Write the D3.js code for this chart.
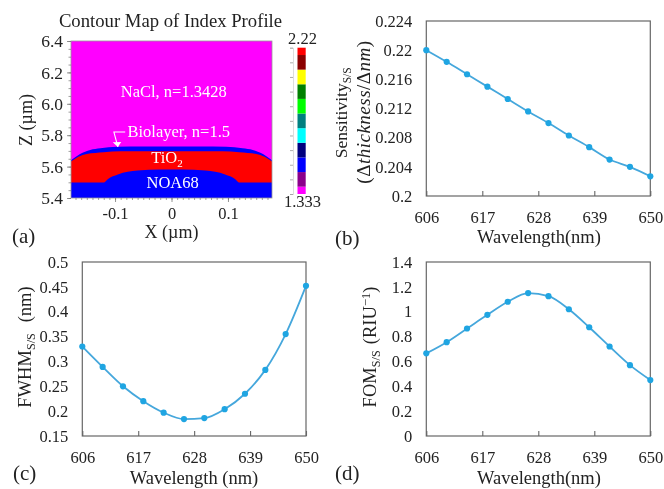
<!DOCTYPE html>
<html>
<head>
<meta charset="utf-8">
<script src="https://cdn.jsdelivr.net/npm/d3@7"></script>
<style>
html, body { margin: 0; padding: 0; background: #fff; }
svg { display: block; filter: blur(0.45px); }
text { font-family: "Liberation Serif", serif; fill: #222; }
</style>
</head>
<body>
<svg id="fig" width="664" height="489"></svg>
<script>
const wavelength = [606, 610, 614, 618, 622, 626, 630, 634, 638, 642, 646, 650];
const sensitivity = [0.2200, 0.2184, 0.2167, 0.2150, 0.2133, 0.2116, 0.2100, 0.2083, 0.2067, 0.2050, 0.2040, 0.2027];
const fwhm = [0.330, 0.289, 0.250, 0.220, 0.197, 0.184, 0.186, 0.204, 0.235, 0.283, 0.355, 0.452];
const fom = [0.665, 0.755, 0.865, 0.975, 1.08, 1.15, 1.125, 1.02, 0.875, 0.72, 0.57, 0.45];
const wavelengthTicks = [606, 617, 628, 639, 650];

// layer outlines for panel (a), [x um, z um]
const biolayerTop = [[-0.178, 5.64], [-0.162, 5.68], [-0.144, 5.706], [-0.126, 5.717], [-0.097, 5.726], [-0.05, 5.728], [0.05, 5.728], [0.097, 5.726], [0.126, 5.717], [0.144, 5.706], [0.162, 5.68], [0.178, 5.64]];
const tio2Top = [[-0.178, 5.632], [-0.165, 5.662], [-0.15, 5.68], [-0.12, 5.692], [-0.09, 5.697], [0.09, 5.697], [0.12, 5.692], [0.15, 5.68], [0.165, 5.662], [0.178, 5.632]];
const noaTop = [[-0.178, 5.498], [-0.12, 5.498], [-0.113, 5.52], [-0.095, 5.55], [-0.06, 5.575], [-0.02, 5.582], [0.02, 5.582], [0.06, 5.575], [0.095, 5.55], [0.113, 5.52], [0.12, 5.498], [0.178, 5.498]];
const colorLevels = ['#ff00ff', '#8b008b', '#0000ff', '#00007f', '#00ffff', '#008080', '#00ff00', '#008000', '#ffff00', '#8b0000', '#ff0000'];
const indexMin = 1.333, indexMax = 2.22;

const svg = d3.select('#fig');
const lineColor = '#45a7dc';
const dotColor = '#1fa5e2';
const frameColor = '#666';

function axisFont(sel, size) {
    sel.selectAll('text').style('font-size', size + 'px').attr('fill', '#222');
}

function drawLinePanel(box, yDomain, yTicks, yFmt, values) {
    const x = d3.scaleLinear().domain([606, 650]).range([box.left, box.right]);
    const y = d3.scaleLinear().domain(yDomain).range([box.bottom, box.top]);

    svg.append('rect')
        .attr('x', box.left).attr('y', box.top)
        .attr('width', box.right - box.left).attr('height', box.bottom - box.top)
        .attr('fill', 'none').attr('stroke', frameColor).attr('stroke-width', 1.2);

    const gx = svg.append('g').attr('transform', `translate(0,${box.bottom})`)
        .call(d3.axisBottom(x).tickValues(wavelengthTicks).tickSize(-5).tickPadding(15));
    gx.select('.domain').remove();
    gx.selectAll('line').attr('stroke', frameColor).attr('stroke-width', 1.1);
    axisFont(gx, 16.5);

    const gy = svg.append('g').attr('transform', `translate(${box.left},0)`)
        .call(d3.axisLeft(y).tickValues(yTicks).tickFormat(yFmt).tickSize(0).tickPadding(14));
    gy.select('.domain').remove();
    axisFont(gy, 16.5);

    const pts = values.map((v, i) => [wavelength[i], v]);
    svg.append('path')
        .attr('d', d3.line().x(d => x(d[0])).y(d => y(d[1])).curve(d3.curveMonotoneX)(pts))
        .attr('fill', 'none').attr('stroke', lineColor).attr('stroke-width', 1.8);
    svg.append('g').selectAll('circle').data(pts).join('circle')
        .attr('cx', d => x(d[0])).attr('cy', d => y(d[1])).attr('r', 3.1)
        .attr('fill', dotColor);
}

function label(x, y, txt, size, anchor) {
    return svg.append('text').attr('x', x).attr('y', y)
        .attr('text-anchor', anchor || 'middle').style('font-size', size + 'px').text(txt);
}

function vertLabel(cx, cy, size) {
    return svg.append('text')
        .attr('transform', `translate(${cx},${cy}) rotate(-90)`)
        .attr('text-anchor', 'middle').style('font-size', size + 'px');
}

function sub(t, s, size) {
    t.append('tspan').attr('dy', size * 0.22).style('font-size', size * 0.66 + 'px').text(s);
    t.append('tspan').attr('dy', -size * 0.22).text('\u200a');
}

function drawContour() {
    const box = { left: 71, right: 272, top: 41, bottom: 198 };
    const x = d3.scaleLinear().domain([-0.178, 0.178]).range([box.left, box.right]);
    const z = d3.scaleLinear().domain([5.4, 6.4]).range([box.bottom, box.top]);

    svg.append('rect').attr('x', box.left).attr('y', box.top)
        .attr('width', box.right - box.left).attr('height', box.bottom - box.top)
        .attr('fill', '#ff00ff');

    const area = d3.area().x(d => x(d[0])).y0(box.bottom).y1(d => z(d[1])).curve(d3.curveMonotoneX);
    svg.append('path').attr('d', area(biolayerTop)).attr('fill', '#0000ff');
    svg.append('path').attr('d', area(tio2Top)).attr('fill', '#ff0000');
    svg.append('path').attr('d', area(noaTop)).attr('fill', '#0000ff');

    svg.append('rect').attr('x', box.left).attr('y', box.top)
        .attr('width', box.right - box.left).attr('height', box.bottom - box.top)
        .attr('fill', 'none').attr('stroke', '#999').attr('stroke-width', 0.8);

    // minor ticks
    const gxMinor = svg.append('g').attr('transform', `translate(0,${box.bottom})`)
        .call(d3.axisBottom(x).tickValues(d3.range(-0.17, 0.175, 0.01)).tickSize(2).tickFormat(''));
    gxMinor.select('.domain').remove();
    gxMinor.selectAll('line').attr('stroke', '#777').attr('stroke-width', 0.7);
    const gyMinor = svg.append('g').attr('transform', `translate(${box.left},0)`)
        .call(d3.axisLeft(z).tickValues(d3.range(5.4, 6.41, 0.05)).tickSize(2.5).tickFormat(''));
    gyMinor.select('.domain').remove();
    gyMinor.selectAll('line').attr('stroke', '#777').attr('stroke-width', 0.7);

    const gx = svg.append('g').attr('transform', `translate(0,${box.bottom})`)
        .call(d3.axisBottom(x).tickValues([-0.1, 0, 0.1]).tickSize(4).tickPadding(5).tickFormat(d3.format('.1~f')));
    gx.select('.domain').remove();
    gx.selectAll('line').attr('stroke', '#777').attr('stroke-width', 0.8);
    gx.selectAll('text').text(d => d === 0 ? '0' : d3.format('.1f')(d).replace('\u2212', '-'));
    axisFont(gx, 16.5);

    const gy = svg.append('g').attr('transform', `translate(${box.left},0)`)
        .call(d3.axisLeft(z).tickValues([5.4, 5.6, 5.8, 6.0, 6.2, 6.4]).tickSize(4).tickPadding(4).tickFormat(d3.format('.1f')));
    gy.select('.domain').remove();
    gy.selectAll('line').attr('stroke', '#777').attr('stroke-width', 0.8);
    axisFont(gy, 17.5);

    label(170.5, 27, 'Contour Map of Index Profile', 18.7);
    label(171.5, 238, 'X (\u00b5m)', 18);
    vertLabel(32, 120, 18).text('Z (\u00b5m)');

    const note = (xv, zv, txt, size) => label(x(xv), z(zv), txt, size).style('fill', '#fff');
    note(0.004, 6.043, 'NaCl, n=1.3428', 16.5);
    svg.append('text').attr('x', x(-0.078)).attr('y', z(5.789)).style('font-size', '16.5px').style('fill', '#fff').text('Biolayer, n=1.5');
    const ti = note(-0.008, 5.62, 'TiO', 16.5);
    ti.append('tspan').attr('dy', 3.5).style('font-size', '11px').text('2');
    note(0.002, 5.464, 'NOA68', 16.5);

    // arrow from the Biolayer label down to the layer
    const arrow = [[-0.082, 5.82], [-0.102, 5.82], [-0.095, 5.725]];
    svg.append('path').attr('d', d3.line().x(d => x(d[0])).y(d => z(d[1]))(arrow))
        .attr('fill', 'none').attr('stroke', '#fff').attr('stroke-width', 1.1);
    const tip = arrow[2];
    const head = [[tip[0] - 0.009, tip[1] + 0.03], tip, [tip[0] + 0.006, tip[1] + 0.032]];
    svg.append('path').attr('d', d3.line().x(d => x(d[0])).y(d => z(d[1]))(head) + 'Z').attr('fill', '#fff');

    // colour bar
    const step = (indexMax - indexMin) / (colorLevels.length - 1);
    const c = d3.scaleLinear().domain([indexMin, indexMax]).range([194, 47.7]);
    svg.append('g').selectAll('rect').data(colorLevels).join('rect')
        .attr('x', 297.5).attr('width', 8.2)
        .attr('y', (d, i) => c(Math.min(indexMax, indexMin + (i + 0.5) * step)))
        .attr('height', (d, i) => c(Math.max(indexMin, indexMin + (i - 0.5) * step)) - c(Math.min(indexMax, indexMin + (i + 0.5) * step)))
        .attr('fill', d => d);
    const gc = svg.append('g').attr('transform', 'translate(293,0)')
        .call(d3.axisLeft(c).tickValues(colorLevels.map((d, i) => indexMin + i * step)).tickSize(3).tickFormat(''));
    gc.select('.domain').attr('stroke', '#bbb').attr('stroke-width', 0.5);
    gc.selectAll('line').attr('stroke', '#999').attr('stroke-width', 0.8);
    label(302.5, 43.5, '2.22', 16.5);
    label(302.5, 207, '1.333', 16.5);

    label(12, 243, '(a)', 21, 'start');
}

drawContour();

drawLinePanel({ left: 426.3, right: 650.3, top: 21, bottom: 196 }, [0.2, 0.224],
    [0.2, 0.204, 0.208, 0.212, 0.216, 0.22, 0.224], d3.format('~g'), sensitivity);
drawLinePanel({ left: 82.3, right: 306, top: 262, bottom: 436 }, [0.15, 0.5],
    [0.15, 0.2, 0.25, 0.3, 0.35, 0.4, 0.45, 0.5], d3.format('~g'), fwhm);
drawLinePanel({ left: 426.3, right: 650.3, top: 262, bottom: 436 }, [0, 1.4],
    [0, 0.2, 0.4, 0.6, 0.8, 1, 1.2, 1.4], d3.format('~g'), fom);

// panel (b) titles
label(539, 243, 'Wavelength(nm)', 18.5);
const bt = vertLabel(347, 112, 17.5);
bt.append('tspan').text('Sensitivity');
sub(bt, 'S/S', 17.5);
const bt2 = vertLabel(370, 112, 19).style('letter-spacing', '0.5px');
bt2.append('tspan').text('(\u0394');
bt2.append('tspan').style('font-style', 'italic').text('thickness');
bt2.append('tspan').text('/\u0394');
bt2.append('tspan').style('font-style', 'italic').text('nm');
bt2.append('tspan').text(')');
label(335, 245, '(b)', 21, 'start');

// panel (c) titles
label(194, 484, 'Wavelength (nm)', 18.5);
const ct = vertLabel(31, 347, 18.5);
ct.append('tspan').text('FWHM');
sub(ct, 'S/S', 18.5);
ct.append('tspan').text('\u00a0\u00a0(nm)');
label(13, 480, '(c)', 21, 'start');

// panel (d) titles
label(539, 484, 'Wavelength(nm)', 18.5);
const dt = vertLabel(376, 347, 18.5);
dt.append('tspan').text('FOM');
sub(dt, 'S/S', 18.5);
dt.append('tspan').text('\u00a0(RIU');
dt.append('tspan').attr('dy', -6).style('font-size', '12.5px').text('\u22121');
dt.append('tspan').attr('dy', 6).text(')');
label(335, 480, '(d)', 21, 'start');
</script>
</body>
</html>
